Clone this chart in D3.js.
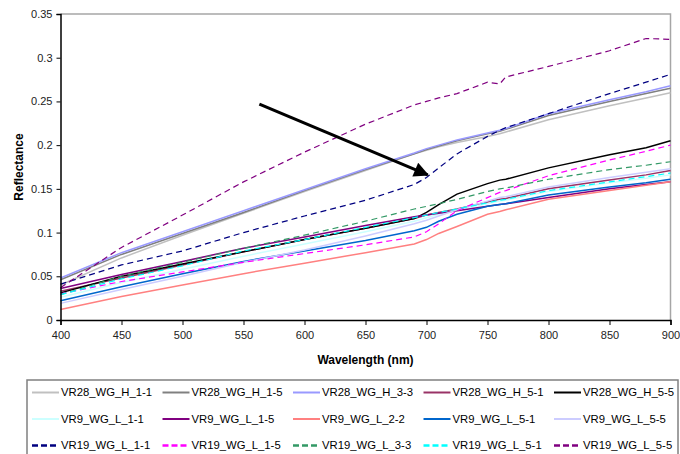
<!DOCTYPE html>
<html>
<head>
<meta charset="utf-8">
<script src="https://d3js.org/d3.v7.min.js"></script>
<style>
    body { margin: 0; background: #fff; }
    svg { font-family: "Liberation Sans", Arial, sans-serif; }
    .tick text { font-size: 11px; fill: #222; }
    .axis-title { font-size: 12px; font-weight: bold; fill: #000; }
    .legend text { font-size: 11.3px; fill: #000; }
</style>
</head>
<body>
<div id="chart"></div>
<script>
var waves = [400, 450, 500, 550, 600, 650, 690, 700, 710, 725, 750, 760, 765, 800, 850, 880, 900];

var names = [
    "VR28_WG_H_1-1", "VR28_WG_H_1-5", "VR28_WG_H_3-3", "VR28_WG_H_5-1", "VR28_WG_H_5-5",
    "VR9_WG_L_1-1", "VR9_WG_L_1-5", "VR9_WG_L_2-2", "VR9_WG_L_5-1", "VR9_WG_L_5-5",
    "VR19_WG_L_1-1", "VR19_WG_L_1-5", "VR19_WG_L_3-3", "VR19_WG_L_5-1", "VR19_WG_L_5-5"
];

var h11 = [0.040, 0.071, 0.097, 0.122, 0.147, 0.171, 0.190, 0.194, 0.198, 0.203, 0.210, 0.213, 0.215, 0.229, 0.245, 0.254, 0.260];
var h15 = [0.046, 0.075, 0.099, 0.123, 0.148, 0.172, 0.190, 0.195, 0.199, 0.205, 0.213, 0.216, 0.218, 0.234, 0.250, 0.259, 0.265];
var h33 = [0.048, 0.077, 0.101, 0.125, 0.149, 0.173, 0.191, 0.196, 0.200, 0.206, 0.214, 0.217, 0.219, 0.236, 0.252, 0.261, 0.268];
var h51 = [0.033, 0.048, 0.063, 0.078, 0.092, 0.105, 0.116, 0.120, 0.123, 0.127, 0.135, 0.138, 0.139, 0.150, 0.160, 0.166, 0.171];
var h55 = [0.031, 0.050, 0.064, 0.078, 0.092, 0.105, 0.116, 0.123, 0.132, 0.144, 0.156, 0.160, 0.161, 0.174, 0.189, 0.197, 0.205];
var l11 = [0.026, 0.043, 0.058, 0.073, 0.087, 0.101, 0.113, 0.117, 0.121, 0.126, 0.133, 0.136, 0.137, 0.147, 0.157, 0.162, 0.166];
var l15 = [0.036, 0.052, 0.067, 0.082, 0.095, 0.108, 0.118, 0.120, 0.122, 0.125, 0.130, 0.132, 0.133, 0.140, 0.150, 0.155, 0.158];
var l22 = [0.012, 0.027, 0.040, 0.053, 0.065, 0.077, 0.087, 0.092, 0.099, 0.107, 0.121, 0.124, 0.126, 0.138, 0.148, 0.154, 0.158];
var l51 = [0.022, 0.038, 0.053, 0.067, 0.079, 0.091, 0.102, 0.106, 0.113, 0.121, 0.130, 0.132, 0.133, 0.143, 0.152, 0.157, 0.161];
var l55 = [0.019, 0.035, 0.050, 0.066, 0.080, 0.096, 0.110, 0.114, 0.119, 0.126, 0.136, 0.140, 0.141, 0.152, 0.163, 0.169, 0.173];
var m11 = [0.041, 0.063, 0.079, 0.100, 0.119, 0.137, 0.155, 0.163, 0.174, 0.190, 0.210, 0.217, 0.220, 0.236, 0.259, 0.272, 0.281];
var m15 = [0.030, 0.044, 0.055, 0.066, 0.076, 0.086, 0.095, 0.101, 0.110, 0.125, 0.140, 0.146, 0.148, 0.165, 0.183, 0.193, 0.200];
var m33 = [0.029, 0.050, 0.066, 0.082, 0.097, 0.113, 0.127, 0.130, 0.133, 0.138, 0.147, 0.150, 0.151, 0.161, 0.172, 0.177, 0.181];
var m51 = [0.029, 0.047, 0.062, 0.079, 0.092, 0.106, 0.117, 0.120, 0.123, 0.127, 0.134, 0.137, 0.138, 0.148, 0.158, 0.164, 0.168];
var m55 = [0.037, 0.083, 0.120, 0.158, 0.192, 0.224, 0.246, 0.250, 0.254, 0.259, 0.272, 0.270, 0.278, 0.290, 0.308, 0.322, 0.321];

var allValues = [h11, h15, h33, h51, h55, l11, l15, l22, l51, l55, m11, m15, m33, m51, m55];

var colors = ["#c0c0c0", "#808080", "#9999ff", "#993366", "#000000",
              "#ccffff", "#800080", "#ff8080", "#0066cc", "#ccccff",
              "#000080", "#ff00ff", "#339966", "#00ffff", "#800080"];
var dashed = [false, false, false, false, false,
              false, false, false, false, false,
              true, true, true, true, true];

var xTicks = [400, 450, 500, 550, 600, 650, 700, 750, 800, 850, 900];
var yTicks = [0, 0.05, 0.1, 0.15, 0.2, 0.25, 0.3, 0.35];

// arrow annotation, in data units [nm, reflectance]
var arrowFrom = [563, 0.247];
var arrowTo = [701, 0.166];

var width = 680, height = 454;
var plot = {left: 60.5, right: 670.5, top: 14, bottom: 320};

var svg = d3.select("#chart").append("svg")
    .attr("width", width)
    .attr("height", height);

var x = d3.scaleLinear().domain([400, 900]).range([plot.left, plot.right]);
var y = d3.scaleLinear().domain([0, 0.35]).range([plot.bottom, plot.top]);

var series = names.map(function(n, i) {
    return {
        name: n,
        color: colors[i],
        dashed: dashed[i],
        values: waves.map(function(w, j) { return {w: w, v: allValues[i][j]}; })
    };
});

/* plot frame: top and right in grey */
svg.append("path")
    .attr("d", "M" + plot.left + "," + plot.top + "H" + plot.right + "V" + plot.bottom)
    .attr("fill", "none")
    .attr("stroke", "#a6a6a6")
    .attr("stroke-width", 1.5);

/* lines */
var line = d3.line()
    .x(d => x(d.w))
    .y(d => y(d.v));

svg.append("g").selectAll("path")
    .data(series).enter()
    .append("path")
    .attr("d", d => line(d.values))
    .attr("fill", "none")
    .attr("stroke", d => d.color)
    .attr("stroke-width", d => d.dashed ? 1.2 : 1.5)
    .attr("stroke-dasharray", d => d.dashed ? "6,4" : null);

/* axes */
var xAxis = d3.axisBottom(x).tickValues(xTicks).tickSize(5).tickPadding(6).tickFormat(d3.format("d"));
var yAxis = d3.axisLeft(y).tickValues(yTicks).tickSize(4).tickPadding(4).tickFormat(d => d === 0 ? "0" : d3.format("")(+d.toFixed(2)));

var gx = svg.append("g")
    .attr("transform", "translate(0," + plot.bottom + ")")
    .call(xAxis);
var gy = svg.append("g")
    .attr("transform", "translate(" + plot.left + ",0)")
    .call(yAxis);

[gx, gy].forEach(function(g) {
    g.select(".domain").attr("stroke", "#000").attr("stroke-width", 1.5);
    g.selectAll(".tick line").attr("stroke", "#000");
});

svg.append("text")
    .attr("class", "axis-title")
    .attr("x", (plot.left + plot.right) / 2)
    .attr("y", 364)
    .attr("text-anchor", "middle")
    .text("Wavelength (nm)");

svg.append("text")
    .attr("class", "axis-title")
    .attr("transform", "translate(23," + ((plot.top + plot.bottom) / 2) + ") rotate(-90)")
    .attr("text-anchor", "middle")
    .text("Reflectance");

/* arrow */
svg.append("defs").append("marker")
    .attr("id", "head")
    .attr("viewBox", "0 0 10 10")
    .attr("refX", 9)
    .attr("refY", 5)
    .attr("markerWidth", 5.5)
    .attr("markerHeight", 5)
    .attr("markerUnits", "strokeWidth")
    .attr("orient", "auto")
    .append("path")
    .attr("d", "M0,0L10,5L0,10Z")
    .attr("fill", "#000");

svg.append("line")
    .attr("x1", x(arrowFrom[0]))
    .attr("y1", y(arrowFrom[1]))
    .attr("x2", x(arrowTo[0]))
    .attr("y2", y(arrowTo[1]))
    .attr("stroke", "#000")
    .attr("stroke-width", 3)
    .attr("marker-end", "url(#head)");

/* legend */
var legend = svg.append("g").attr("class", "legend");

legend.append("rect")
    .attr("x", 27)
    .attr("y", 380)
    .attr("width", 651)
    .attr("height", 86)
    .attr("fill", "#fff")
    .attr("stroke", "#808080")
    .attr("stroke-width", 1.5);

var colX = d3.scaleLinear().domain([0, 4]).range([32, 554]);
var rowY = d3.scaleLinear().domain([0, 2]).range([392.5, 445.5]);

var items = legend.selectAll("g.item")
    .data(series).enter()
    .append("g")
    .attr("class", "item")
    .attr("transform", (d, i) => "translate(" + colX(i % 5) + "," + rowY(Math.floor(i / 5)) + ")");

items.append("line")
    .attr("x1", 0)
    .attr("x2", 27)
    .attr("stroke", d => d.color)
    .attr("stroke-width", d => d.dashed ? 2.5 : 2)
    .attr("stroke-dasharray", d => d.dashed ? "6,3" : null);

items.append("text")
    .attr("x", 29)
    .attr("dy", "0.35em")
    .text(d => d.name);
</script>
</body>
</html>
